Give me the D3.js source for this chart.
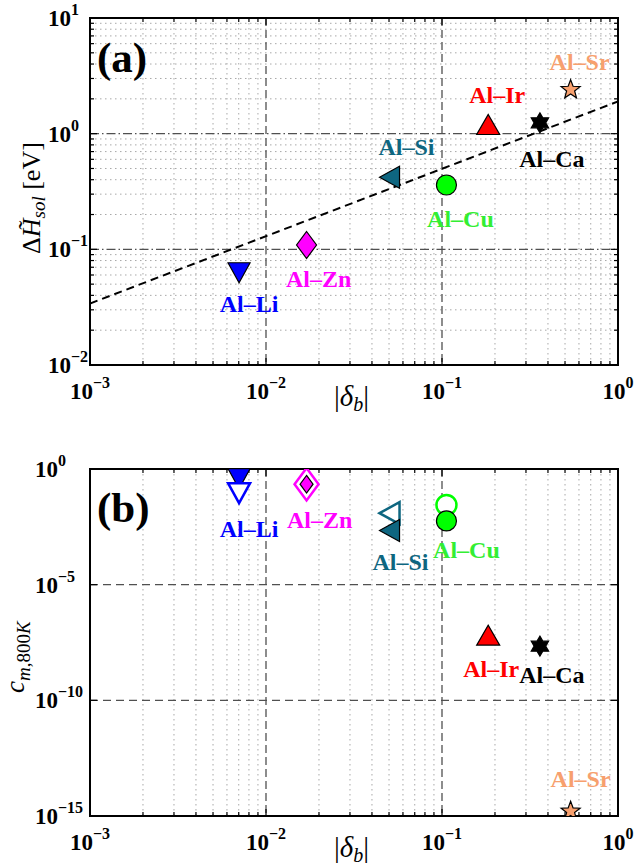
<!DOCTYPE html>
<html><head><meta charset="utf-8">
<script src="https://cdn.jsdelivr.net/npm/d3@7"></script>
<style>
body{margin:0;background:#fff;}
svg{display:block;}
</style></head>
<body><svg id="c" width="634" height="865" font-family="'Liberation Serif', 'Times New Roman', serif"></svg>
<script>
// ---------- data ----------
const alloys   = ["Al–Li","Al–Zn","Al–Si","Al–Cu","Al–Ir","Al–Ca","Al–Sr"];
const colors   = ["#0000ff","#ff00ff","#0e6680","#00ff00","#ff0000","#000000","#f7a06e"];
const labelColors = ["#0000ff","#ff00ff","#0e6680","#33ee33","#ff0000","#000000","#f7a06e"];
const shapes   = ["tridown","diamond","trileft","circle","triup","hexagram","pentagram"];
const deltaB   = [0.00703, 0.0170, 0.0510, 0.106, 0.183, 0.360, 0.538];
const dHsol    = [0.064, 0.109, 0.42, 0.36, 1.20, 1.24, 2.40];
const cFilled  = [0.42, 0.22, 0.0022, 0.0057, 6.6e-8, 2.2e-8, 1.6e-15];
const cOpen    = [0.10, 0.22, 0.0123, 0.028, null, null, null];
const fitLine  = [[1e-3, 0.034],[1, 1.90]];
const xTickExp = [-3,-2,-1,0];
const yTickExpA= [-2,-1,0,1];
const yTickExpB= [-15,-10,-5,0];

// ---------- layout ----------
const L = 90, R = 618;
const panels = [
  {top:18, bottom:365, dom:[1e-2,10], tickExp:yTickExpA, minorY:true, tag:"(a)", tagY:72, labX:48},
  {top:469, bottom:816, dom:[1e-15,1], tickExp:yTickExpB, minorY:false, tag:"(b)", tagY:522, labX:35}
];
const labOffA = [[10,40],[12,42],[16,-22],[14,42],[9,-22],[12,44],[9,-20]];
const labOffB = [[10,59],[13,44],[10,40],[20,37],[3,42],[12,37],[10,-24]];

const svg = d3.select("#c");
const x = d3.scaleLog().domain([1e-3,1]).range([L,R]);

function markerPath(shape, s){
  const p = d3.path();
  if(shape==="tridown"){ p.moveTo(-11,-9);p.lineTo(11,-9);p.lineTo(0,11);p.closePath(); }
  else if(shape==="triup"){ p.moveTo(-11.5,10);p.lineTo(11.5,10);p.lineTo(0,-10);p.closePath(); }
  else if(shape==="trileft"){ p.moveTo(-11,0);p.lineTo(9,-11);p.lineTo(9,11);p.closePath(); }
  else if(shape==="diamond"){ const w=10*s,h=13.5*s; p.moveTo(0,-h);p.lineTo(w,0);p.lineTo(0,h);p.lineTo(-w,0);p.closePath(); }
  else if(shape==="circle"){ p.arc(0,0,10*s,0,2*Math.PI); }
  else if(shape==="hexagram"){
    const ro=10, ri=10/Math.sqrt(3);
    for(let i=0;i<12;i++){const r=i%2?ri:ro;const a=-Math.PI/2+i*Math.PI/6;
      const px=r*Math.cos(a),py=r*Math.sin(a); i?p.lineTo(px,py):p.moveTo(px,py);} p.closePath();
  }
  else if(shape==="pentagram"){
    const ro=10, ri=4.2;
    for(let i=0;i<10;i++){const r=i%2?ri:ro;const a=-Math.PI/2+i*Math.PI/5;
      const px=r*Math.cos(a),py=r*Math.sin(a); i?p.lineTo(px,py):p.moveTo(px,py);} p.closePath();
  }
  return p.toString();
}

panels.forEach((P,pi)=>{
  const y = d3.scaleLog().domain(P.dom).range([P.bottom,P.top]);
  const g = svg.append("g");
  const clipId = "clip"+pi;
  svg.append("clipPath").attr("id",clipId).append("rect")
     .attr("x",L).attr("y",P.top).attr("width",R-L).attr("height",P.bottom-P.top);

  // minor x grid
  const xMinor = [];
  for(let e=-3;e<0;e++) for(let m=2;m<=9;m++) xMinor.push(m*Math.pow(10,e));
  g.selectAll(null).data(xMinor).enter().append("line")
    .attr("x1",d=>x(d)).attr("x2",d=>x(d)).attr("y1",P.top).attr("y2",P.bottom)
    .attr("stroke","#a8a8a8").attr("stroke-width",1).attr("stroke-dasharray","1.5,3.5");
  let yMinor=[];
  if(P.minorY){
    for(let e=-2;e<1;e++) for(let m=2;m<=9;m++) yMinor.push(m*Math.pow(10,e));
    g.selectAll(null).data(yMinor).enter().append("line")
      .attr("y1",d=>y(d)).attr("y2",d=>y(d)).attr("x1",L).attr("x2",R)
      .attr("stroke","#a8a8a8").attr("stroke-width",1).attr("stroke-dasharray","1.5,3.5");
  }
  // major grid
  const xMaj = xTickExp.slice(1,-1).map(e=>Math.pow(10,e));
  g.selectAll(null).data(xMaj).enter().append("line")
    .attr("x1",d=>x(d)).attr("x2",d=>x(d)).attr("y1",P.top).attr("y2",P.bottom)
    .attr("stroke","#505050").attr("stroke-width",1.3).attr("stroke-dasharray","8,4");
  const yMaj = P.tickExp.slice(1,-1).map(e=>Math.pow(10,e));
  g.selectAll(null).data(yMaj).enter().append("line")
    .attr("y1",d=>y(d)).attr("y2",d=>y(d)).attr("x1",L).attr("x2",R)
    .attr("stroke","#505050").attr("stroke-width",1.3)
    .attr("stroke-dasharray", pi===0 ? "9,3,1.5,3" : "8,5");

  // ticks inside
  const tk = [];
  xMinor.forEach(v=>{tk.push([x(v),P.bottom,x(v),P.bottom-4]);tk.push([x(v),P.top,x(v),P.top+4]);});
  xTickExp.forEach(e=>{const v=x(Math.pow(10,e));tk.push([v,P.bottom,v,P.bottom-7]);tk.push([v,P.top,v,P.top+7]);});
  yMinor.forEach(v=>{tk.push([L,y(v),L+4,y(v)]);tk.push([R,y(v),R-4,y(v)]);});
  P.tickExp.forEach(e=>{const v=y(Math.pow(10,e));tk.push([L,v,L+7,v]);tk.push([R,v,R-7,v]);});
  g.selectAll(null).data(tk).enter().append("line")
    .attr("x1",d=>d[0]).attr("y1",d=>d[1]).attr("x2",d=>d[2]).attr("y2",d=>d[3])
    .attr("stroke","#000").attr("stroke-width",1.2);

  // frame
  g.append("rect").attr("x",L).attr("y",P.top).attr("width",R-L).attr("height",P.bottom-P.top)
    .attr("fill","none").attr("stroke","#000").attr("stroke-width",2);

  // tick labels
  xTickExp.forEach(e=>{
    const t=g.append("text").attr("x",x(Math.pow(10,e))).attr("y",P.bottom+34)
      .attr("text-anchor","middle").attr("font-weight","bold").attr("font-size",23);
    t.append("tspan").text("10");
    t.append("tspan").attr("dy",-11).attr("font-size",16).text(e===0?"0":"−"+(-e));
  });
  P.tickExp.forEach(e=>{
    const t=g.append("text").attr("x",P.labX).attr("y",y(Math.pow(10,e))+8)
      .attr("font-weight","bold").attr("font-size",23);
    t.append("tspan").text("10");
    t.append("tspan").attr("dy",-11).attr("font-size",16).text(e===0?"0":(e>0?String(e):"−"+(-e)));
  });

  // x title
  const xt=g.append("text").attr("x",334).attr("y",P.bottom+41).attr("font-size",29);
  xt.append("tspan").text("|");
  xt.append("tspan").attr("font-style","italic").text("δ");
  xt.append("tspan").attr("font-style","italic").attr("font-size",20).attr("dy",5).text("b");
  xt.append("tspan").attr("dy",-5).text("|");

  // panel tag
  g.append("text").attr("x",97).attr("y",P.tagY).attr("font-size",43).attr("font-weight","bold").text(P.tag);

  const plot = g.append("g").attr("clip-path",`url(#${clipId})`);

  if(pi===0){
    // y title
    const yt=g.append("text").attr("transform","translate(40,254) rotate(-90)").attr("font-size",26);
    yt.append("tspan").text("Δ");
    yt.append("tspan").attr("font-style","italic").text("H\u0303");
    yt.append("tspan").attr("font-style","italic").attr("font-size",19).attr("dy",5).text("sol");
    yt.append("tspan").attr("dy",-5).text(" [eV]");

    plot.append("path").datum(fitLine)
      .attr("d",d3.line().x(d=>x(d[0])).y(d=>y(d[1])))
      .attr("fill","none").attr("stroke","#000").attr("stroke-width",2).attr("stroke-dasharray","8,5");

    alloys.forEach((a,i)=>{
      const cx=x(deltaB[i]), cy=y(dHsol[i]);
      plot.append("path").attr("d",markerPath(shapes[i],1)).attr("transform",`translate(${cx},${cy})`)
        .attr("fill",colors[i]).attr("stroke","#000").attr("stroke-width",1.2);
      g.append("text").attr("x",cx+labOffA[i][0]).attr("y",cy+labOffA[i][1])
        .attr("text-anchor","middle").attr("font-weight","bold").attr("font-size",24)
        .attr("fill",labelColors[i]).text(a);
    });
  } else {
    const yt=g.append("text").attr("transform","translate(24,693) rotate(-90)").attr("font-size",27);
    yt.append("tspan").attr("font-style","italic").text("c");
    yt.append("tspan").attr("font-style","italic").attr("font-size",19).attr("dy",6).text("m");
    yt.append("tspan").attr("font-size",19).text(",800");
    yt.append("tspan").attr("font-style","italic").attr("font-size",19).text("K");

    alloys.forEach((a,i)=>{
      const cx=x(deltaB[i]), cyF=y(cFilled[i]);
      const drawOpen = ()=>{
        if(cOpen[i]==null) return;
        const cyO=y(cOpen[i]);
        plot.append("path").attr("d",markerPath(shapes[i], shapes[i]==="diamond"?1.2:1))
          .attr("transform",`translate(${cx},${cyO})`)
          .attr("fill","#fff").attr("stroke",colors[i]).attr("stroke-width",2.5);
      };
      const drawFilled = ()=>{
        plot.append("path").attr("d",markerPath(shapes[i], shapes[i]==="diamond"?0.65:1))
          .attr("transform",`translate(${cx},${cyF})`)
          .attr("fill",colors[i]).attr("stroke","#000").attr("stroke-width",1.2);
      };
      if(shapes[i]==="tridown"){ drawFilled(); drawOpen(); } else { drawOpen(); drawFilled(); }
      g.append("text").attr("x",cx+labOffB[i][0]).attr("y",cyF+labOffB[i][1])
        .attr("text-anchor","middle").attr("font-weight","bold").attr("font-size",24)
        .attr("fill",labelColors[i]).text(a);
    });
  }
});
</script></body></html>
